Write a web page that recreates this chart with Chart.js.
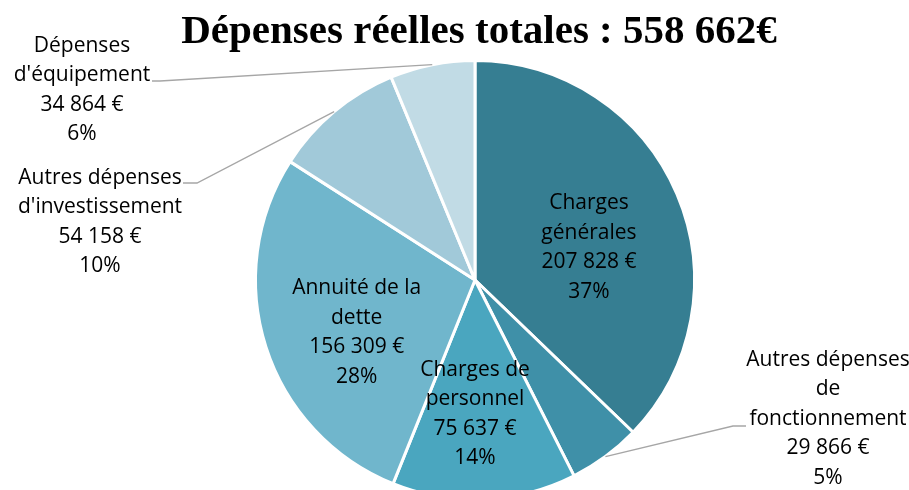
<!DOCTYPE html>
<html>
<head>
<meta charset="utf-8">
<script src="https://cdn.jsdelivr.net/npm/chart.js@4/dist/chart.umd.min.js"></script>
<style>
    html, body { margin: 0; padding: 0; background: #fff; overflow: hidden; }
    #wrap { position: relative; width: 909px; height: 502px; }
</style>
</head>
<body>
<div id="wrap"><canvas id="pieChart"></canvas></div>
<script>
// Data
const title = "Dépenses réelles totales : 558 662€"
const categories = ["Charges générales", "Autres dépenses de fonctionnement", "Charges de personnel",
    "Annuité de la dette", "Autres dépenses d'investissement", "Dépenses d'équipement"]
const categoryLines = [["Charges", "générales"], ["Autres dépenses", "de", "fonctionnement"], ["Charges de", "personnel"],
    ["Annuité de la", "dette"], ["Autres dépenses", "d'investissement"], ["Dépenses", "d'équipement"]]
const amounts = [207828, 29866, 75637, 156309, 54158, 34864]
const colors = ["#367e92", "#3f90a8", "#4aa6bf", "#70b6cc", "#a1c9d9", "#c1dbe5"]

// label layout: inside labels by angle (deg from top) / radius fraction, outside labels by text block + leader elbow
const labelPlacement = [
    { inside: true, angle: 74, dist: 0.54 },
    { inside: false, x: 828, y: 360, elbow: [746, 733, 426] },
    { inside: true, angle: 180, dist: 0.61 },
    { inside: true, angle: 246, dist: 0.59 },
    { inside: false, x: 100, y: 178, elbow: [183, 197, 183] },
    { inside: false, x: 82, y: 46, elbow: [152, 160, 81] },
]

const LINE_H = 29.5
const LABEL_FONT = "21px 'Open Sans'"

const total = amounts.reduce((a, b) => a + b, 0)

function formatAmount(v) {
    return String(v).replace(/\B(?=(\d{3})+(?!\d))/g, " ") + " €"
}

const labelPlugin = {
    id: "sliceLabels",
    afterDatasetsDraw(chart) {
        const ctx = chart.ctx
        const arcs = chart.getDatasetMeta(0).data
        ctx.save()
        ctx.font = LABEL_FONT
        ctx.fillStyle = "#000"
        ctx.textAlign = "center"
        ctx.textBaseline = "middle"
        arcs.forEach((arc, i) => {
            const lines = categoryLines[i].concat([formatAmount(amounts[i]), Math.round(amounts[i] / total * 100) + "%"])
            const p = labelPlacement[i]
            let x, y
            if (p.inside) {
                const a = p.angle * Math.PI / 180
                const cx = arc.x + Math.sin(a) * arc.outerRadius * p.dist
                const cy = arc.y - Math.cos(a) * arc.outerRadius * p.dist
                x = cx
                y = cy - (lines.length - 1) * LINE_H / 2
            } else {
                x = p.x
                y = p.y
                // leader line from the slice edge to the label
                const mid = (arc.startAngle + arc.endAngle) / 2
                const sx = arc.x + Math.cos(mid) * arc.outerRadius
                const sy = arc.y + Math.sin(mid) * arc.outerRadius
                ctx.beginPath()
                ctx.strokeStyle = "#a6a6a6"
                ctx.lineWidth = 1.3
                ctx.moveTo(sx, sy)
                ctx.lineTo(p.elbow[1], p.elbow[2])
                ctx.lineTo(p.elbow[0], p.elbow[2])
                ctx.stroke()
            }
            lines.forEach((t, k) => ctx.fillText(t, x, y + k * LINE_H))
        })
        // title
        ctx.font = "bold 41px 'Liberation Serif'"
        ctx.textBaseline = "alphabetic"
        ctx.fillText(title, 479, 43)
        ctx.restore()
    }
}

new Chart(document.getElementById("pieChart"), {
    type: "pie",
    data: {
        labels: categories,
        datasets: [{
            data: amounts,
            backgroundColor: colors,
            borderColor: "#ffffff",
            borderWidth: 3,
            hoverOffset: 0,
        }]
    },
    options: {
        responsive: true,
        maintainAspectRatio: false,
        animation: false,
        events: [],
        layout: { padding: { top: 59, bottom: 1, left: 41, right: 0 } },
        plugins: {
            legend: { display: false },
            tooltip: { enabled: false },
            title: { display: false },
        }
    },
    plugins: [labelPlugin]
})
</script>
</body>
</html>
